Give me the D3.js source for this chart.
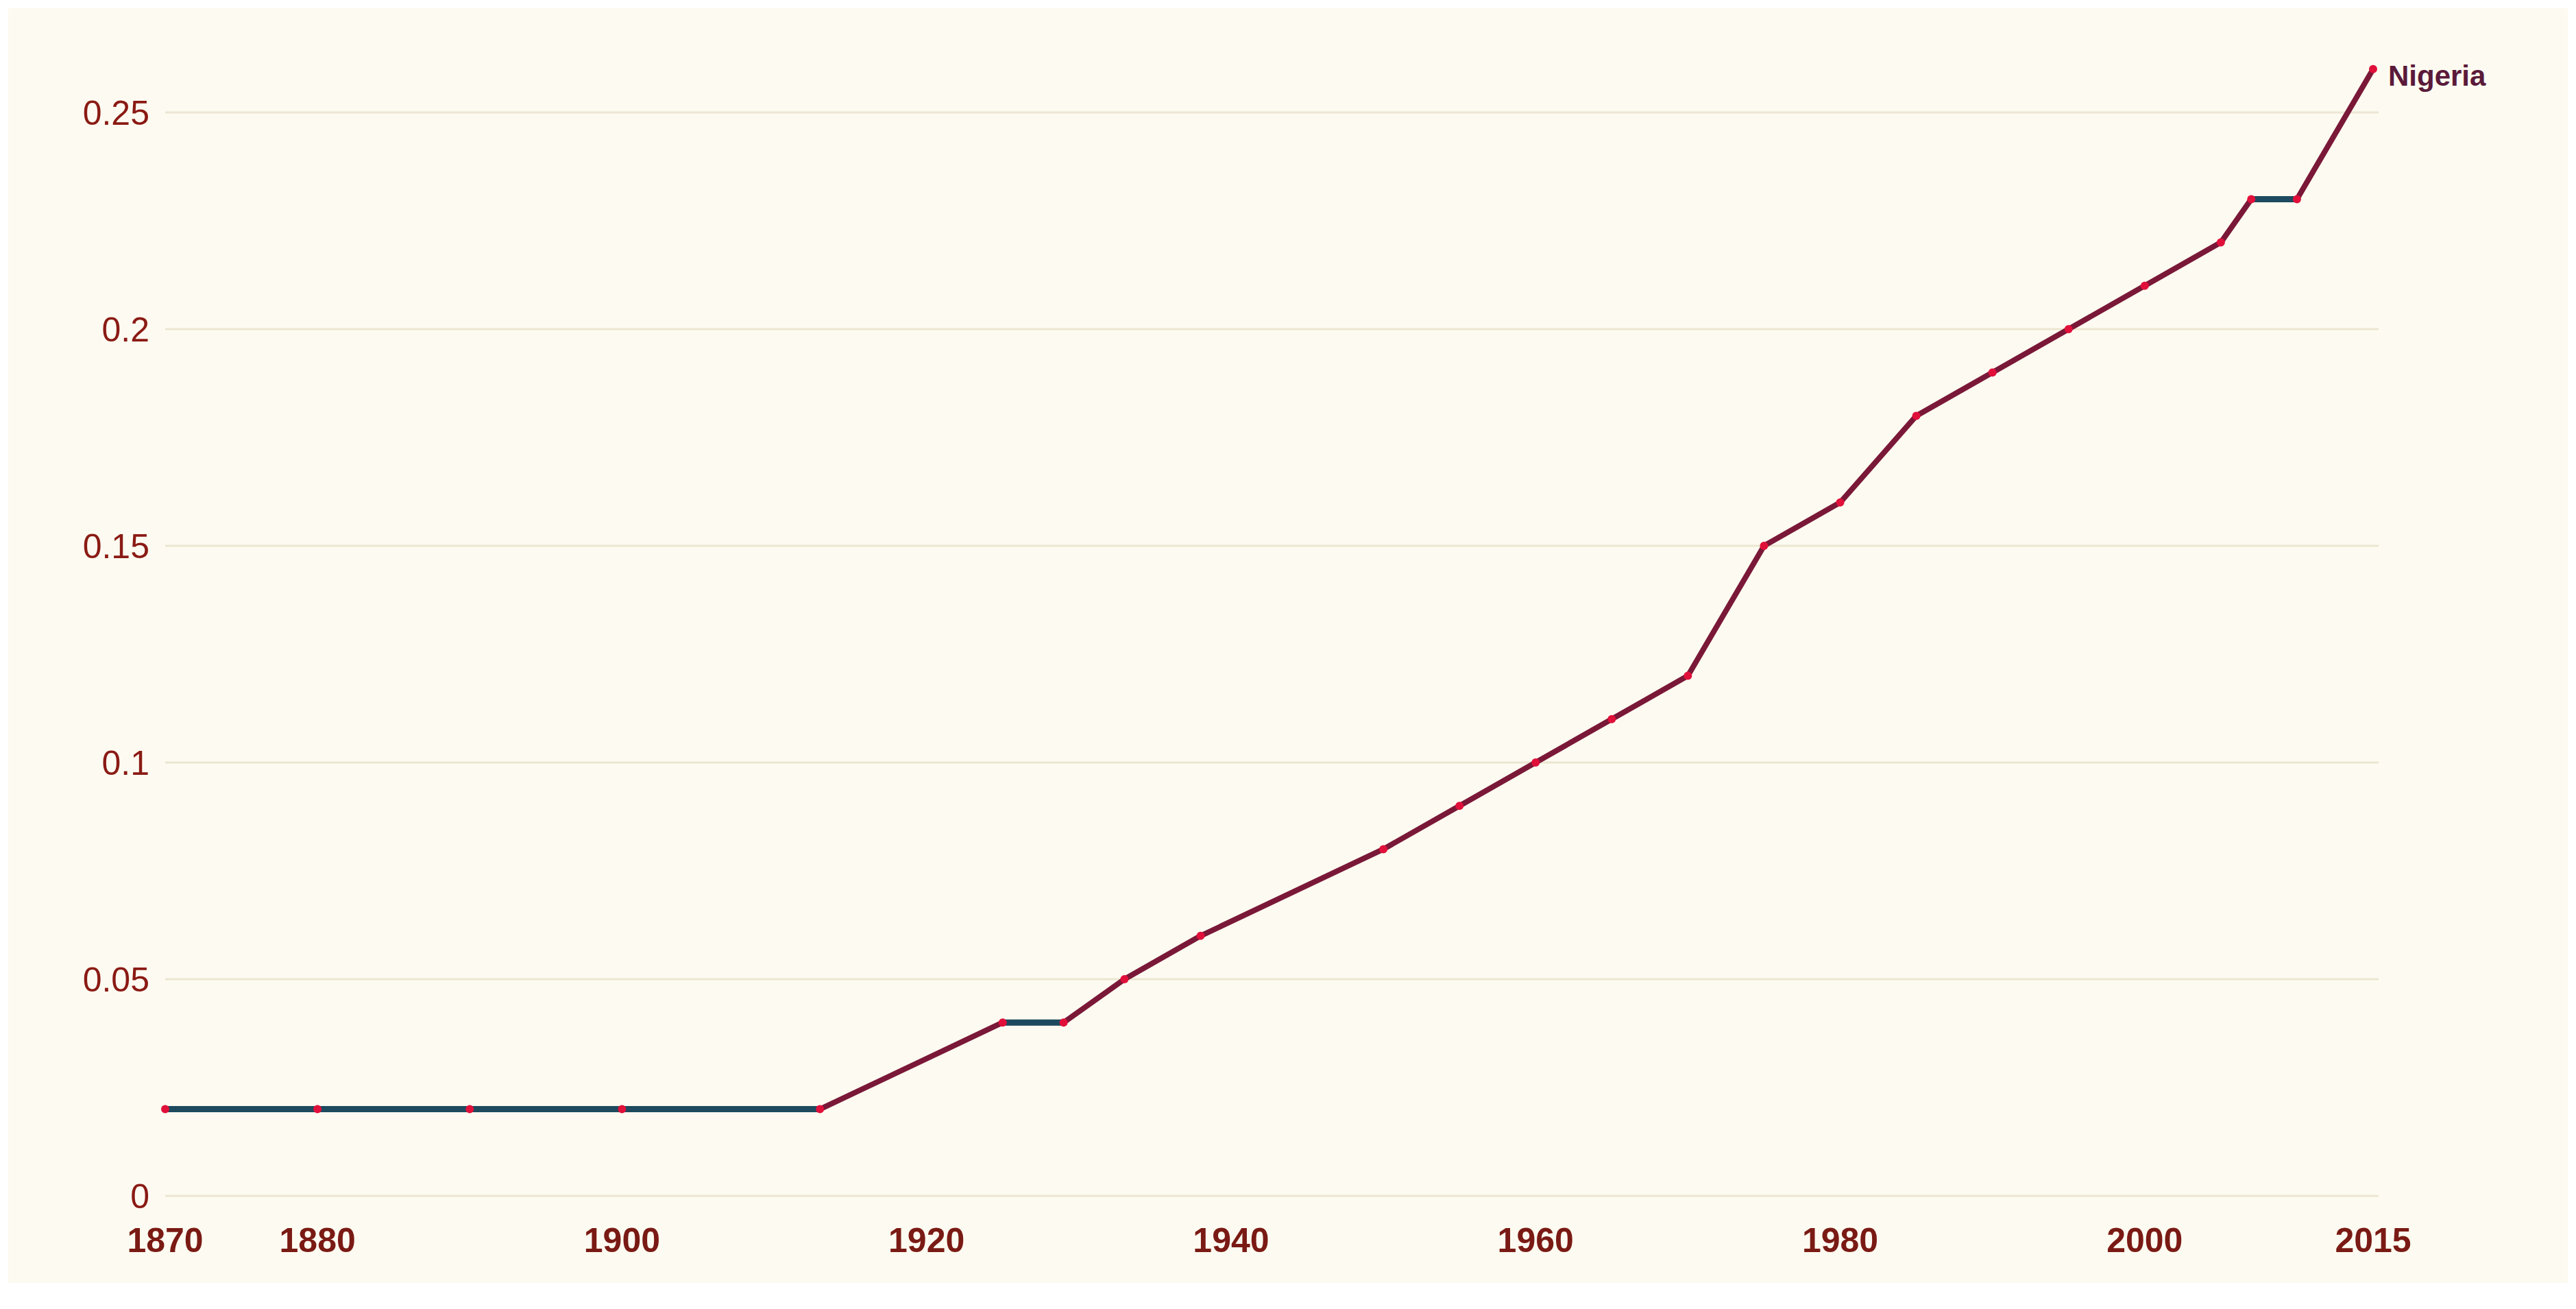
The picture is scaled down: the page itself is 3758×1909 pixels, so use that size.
<!DOCTYPE html>
<html><head><meta charset="utf-8">
<script src="https://cdn.jsdelivr.net/npm/d3@7"></script>
<style>body{margin:0;background:#fff;}svg{display:block;}</style>
</head><body>
<script>
const years = [1870,1880,1890,1900,1913,1925,1929,1933,1938,1950,1955,1960,1965,1970,1975,1980,1985,1990,1995,2000,2005,2007,2010,2015];
const values = [0.02,0.02,0.02,0.02,0.02,0.04,0.04,0.05,0.06,0.08,0.09,0.10,0.11,0.12,0.15,0.16,0.18,0.19,0.20,0.21,0.22,0.23,0.23,0.26];
const xTicks = [1870,1880,1900,1920,1940,1960,1980,2000,2015];
const yTicks = [0,0.05,0.1,0.15,0.2,0.25];
const seriesName = "Nigeria";

const W=3758,H=1909;
const svg=d3.select("body").append("svg").attr("width",W).attr("height",H);
svg.append("rect").attr("x",12).attr("y",12).attr("width",W-24).attr("height",H-50).attr("fill","#fdfbf1");
const x=d3.scaleLinear().domain([1870,2015]).range([241,3462]);
const y=d3.scaleLinear().domain([0,0.25]).range([1744,164]);
const font="'Liberation Sans', Arial, sans-serif";

svg.append("g").selectAll("line").data(yTicks).join("line")
  .attr("x1",241).attr("x2",3470).attr("y1",d=>y(d)).attr("y2",d=>y(d))
  .attr("stroke","#ece6d2").attr("stroke-width",3);
svg.append("g").selectAll("text").data(yTicks).join("text")
  .attr("x",218).attr("y",d=>y(d)).attr("dy","0.36em").attr("text-anchor","end")
  .attr("font-family",font).attr("font-size",50).attr("fill","#8a1a14").text(d=>d);
svg.append("g").selectAll("text").data(xTicks).join("text")
  .attr("x",d=>x(d)).attr("y",1826).attr("text-anchor","middle")
  .attr("font-family",font).attr("font-size",50).attr("font-weight","bold").attr("fill","#7a1a14").text(d=>d);

const data=years.map((yr,i)=>({yr,v:values[i]}));
const line=d3.line().x(d=>x(d.yr)).y(d=>y(d.v));
svg.append("path").datum(data).attr("d",line).attr("fill","none")
  .attr("stroke","#7a1838").attr("stroke-width",8).attr("stroke-linejoin","round");
const flats=[];
for(let i=1;i<data.length;i++) if(data[i].v===data[i-1].v) flats.push([data[i-1],data[i]]);
svg.append("g").selectAll("path").data(flats).join("path").attr("d",line)
  .attr("stroke","#1d4a5e").attr("stroke-width",9).attr("fill","none");
svg.append("g").selectAll("circle").data(data).join("circle")
  .attr("cx",d=>x(d.yr)).attr("cy",d=>y(d.v)).attr("r",6).attr("fill","#e0103a");
const last=data[data.length-1];
svg.append("text").attr("x",x(last.yr)+22).attr("y",y(last.v)+24)
  .attr("font-family",font).attr("font-size",42).attr("font-weight","bold").attr("fill","#5a1a3a").text(seriesName);
</script>
</body></html>
